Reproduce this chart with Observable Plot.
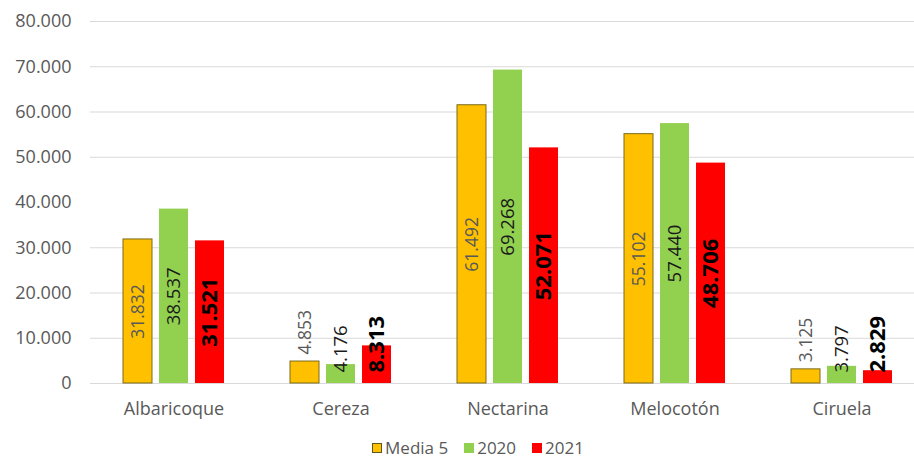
<!DOCTYPE html>
<html>
<head>
<meta charset="utf-8">
<script src="https://cdn.jsdelivr.net/npm/d3@7"></script>
<script src="https://cdn.jsdelivr.net/npm/@observablehq/plot@0.6"></script>
<style>
  html, body { margin: 0; padding: 0; background: #fff; }
  #chart { width: 914px; }
  #chart svg { overflow: hidden; display: block; }
  .legend { display: flex; justify-content: center; align-items: center; height: 24px; line-height: 24px; margin-top: 6px;
            font-family: "Open Sans", sans-serif; font-size: 17px; color: #595959; padding-left: 42px; box-sizing: border-box; width: 914px; }
  .legend .item { display: flex; align-items: center; margin: 0 8px; }
  .legend .sw { width: 10px; height: 10px; margin-right: 3px; box-sizing: border-box; }
</style>
</head>
<body>
<div id="chart"></div>
<script>
// ---- data ----
const categories = ["Albaricoque", "Cereza", "Nectarina", "Melocotón", "Ciruela"];
const series = ["Media 5", "2020", "2021"];
const media5 = [31832, 4853, 61492, 55102, 3125];
const values2020 = [38537, 4176, 69268, 57440, 3797];
const values2021 = [31521, 8313, 52071, 48706, 2829];
const yTicks = [0, 10000, 20000, 30000, 40000, 50000, 60000, 70000, 80000];
const gridValues = [0, 10000, 20000, 30000, 50000, 60000, 70000, 80000];
const colors = ["#FFC000", "#92D050", "#FF0000"];

const seriesValues = [media5, values2020, values2021];
const data = [];
categories.forEach((c, i) => {
  series.forEach((s, j) => data.push({category: c, series: s, value: seriesValues[j][i]}));
});

const fmt = v => d3.format(",")(v).replace(/,/g, ".");
const shortLimit = 10000;

const labelStyles = {
  "Media 5": {fill: "#595959", fontSize: 17.5, fontWeight: "normal"},
  "2020": {fill: "#1a1a1a", fontSize: 18.5, fontWeight: "normal"},
  "2021": {fill: "#000", fontSize: 22, fontWeight: "bold"}
};

function labelMarks(s) {
  const st = labelStyles[s];
  const common = {fx: "category", x: "series", text: d => fmt(d.value), rotate: -90,
                  fill: st.fill, fontSize: st.fontSize, fontWeight: st.fontWeight};
  const tall = data.filter(d => d.series === s && d.value >= shortLimit);
  const short = data.filter(d => d.series === s && d.value < shortLimit);
  const marks = [Plot.text(tall, {...common, y: d => d.value / 2, textAnchor: "middle"})];
  if (s === "Media 5") {
    marks.push(Plot.text(short, {...common, y: "value", textAnchor: "start", dy: -7}));
  } else {
    marks.push(Plot.text(short, {...common, y: () => 0, textAnchor: "start", dy: -11}));
  }
  return marks;
}

const chart = Plot.plot({
  width: 914,
  height: 430,
  marginLeft: 90,
  marginRight: 0,
  marginTop: 21,
  marginBottom: 47,
  style: {fontFamily: "Open Sans", fontSize: "18px", color: "#595959", background: "#fff", overflow: "hidden"},
  fx: {domain: categories, range: [90, 925], padding: 0, axis: "bottom", label: null, tickSize: 0, tickPadding: 19},
  x: {domain: series, axis: null, paddingInner: 0.2, paddingOuter: 0.87},
  y: {domain: [0, 80000], ticks: yTicks, tickFormat: fmt, tickSize: 0, tickPadding: 19, label: null},
  color: {domain: series, range: colors},
  marks: [
    Plot.ruleY(gridValues, {stroke: "#d9d9d9", strokeWidth: 1}),
    Plot.barY(data, {fx: "category", x: "series", y: "value", fill: "series",
      stroke: d => d.series === "Media 5" ? "#7a6a1a" : "none", strokeWidth: 1}),
    ...series.flatMap(labelMarks)
  ]
});
document.getElementById("chart").appendChild(chart);

// legend
const legend = document.createElement("div");
legend.className = "legend";
series.forEach((s, j) => {
  const item = document.createElement("div");
  item.className = "item";
  const sw = document.createElement("div");
  sw.className = "sw";
  sw.style.background = colors[j];
  if (s === "Media 5") sw.style.border = "1px solid #5a5a20";
  const t = document.createElement("span");
  t.textContent = s;
  item.appendChild(sw);
  item.appendChild(t);
  legend.appendChild(item);
});
document.getElementById("chart").appendChild(legend);
</script>
</body>
</html>
